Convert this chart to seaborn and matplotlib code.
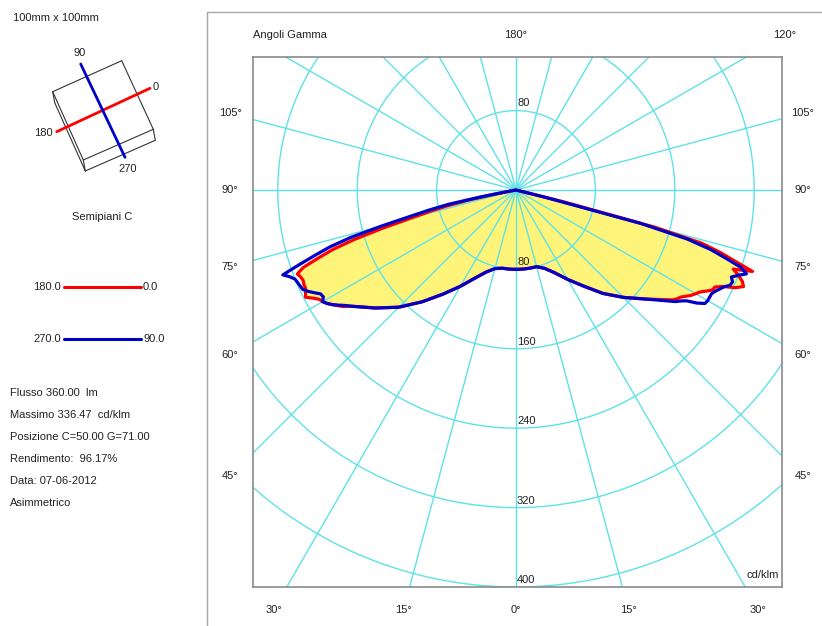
import numpy as np
import pandas as pd
import matplotlib
matplotlib.use('Agg')
import matplotlib.pyplot as plt
import seaborn as sns

# ---------------- data (gamma in degrees, intensity in cd/klm) ----------------
gamma = [0, 5, 10, 15, 20, 25, 30, 35, 40, 45, 50, 55, 56, 57, 58, 59, 60, 61, 62, 63,
         64, 65, 66, 67, 68, 69, 70, 71, 72, 73, 74, 75, 76, 77, 78, 79, 80, 81, 85, 90]

i_c0 = [80, 80, 80, 80, 84, 92, 104, 118, 136, 153, 171, 193, 196, 198, 202, 206, 209, 212, 217, 222,
        223, 230, 242, 249, 246, 240, 233, 252, 232, 215, 195, 145, 50, 0, 0, 0, 0, 0, 0, 0]
i_c180 = [80, 80, 80, 82, 88, 98, 112, 128, 147, 167, 185, 204, 210, 214, 218, 222, 225, 227, 232, 238,
          236, 234, 234, 233, 234, 236, 228, 211, 194, 170, 140, 110, 90, 72, 50, 20, 0, 0, 0, 0]
i_c90 = [80, 80, 80, 80, 84, 92, 104, 118, 136, 153, 171, 196, 200, 205, 215, 222, 223, 223, 223, 225,
         228, 231, 236, 237, 234, 240, 247, 240, 222, 205, 180, 130, 30, 0, 0, 0, 0, 0, 0, 0]
i_c270 = [80, 80, 80, 82, 88, 98, 112, 128, 147, 167, 185, 204, 208, 213, 218, 222, 225, 222, 223, 228,
          233, 237, 238, 239, 240, 244, 250, 231, 213, 196, 173, 140, 110, 90, 70, 35, 5, 0, 0, 0]

radial_ticks = [80, 160, 240, 320, 400]
side_gammas = [105, 90, 75, 60, 45]
bottom_gammas = [-30, -15, 0, 15, 30]

legend_left = ["180.0", "270.0"]
legend_right = ["0.0", "90.0"]
info_lines = ["Flusso 360.00  lm", "Massimo 336.47  cd/klm", "Posizione C=50.00 G=71.00",
              "Rendimento:  96.17%", "Data: 07-06-2012", "Asimmetrico"]

RED = '#ff0000'
BLUE = '#0000c8'
CYAN = '#5ee2e8'
YELLOW = '#fff47a'
TXT = '#222222'
FS = 8

sns.set_theme(style='white')
plt.rcParams['font.family'] = ['Liberation Sans', 'DejaVu Sans']

fig = plt.figure(figsize=(8.22, 6.26), dpi=100)

# ---------------- background / left panel (pixel coordinates) ----------------
bg = fig.add_axes([0, 0, 1, 1])
bg.set_xlim(0, 822)
bg.set_ylim(626, 0)
bg.axis('off')

bg.plot([207, 207], [12, 626], color='#a8a8a8', lw=1)
bg.plot([207, 822], [12, 12], color='#a8a8a8', lw=1)

bg.text(13, 18, "100mm x 100mm", fontsize=FS, color=TXT, ha='left', va='center')

# schematic of the luminaire (slab)
A, B, C, D = (52.7, 91.7), (121.7, 60.7), (153.3, 129.3), (83.3, 160.0)
t = (2.0, 11.0)
A2 = (A[0] + t[0], A[1] + t[1]); C2 = (C[0] + t[0], C[1] + t[1]); D2 = (D[0] + t[0], D[1] + t[1])
for p, q in [(A, B), (B, C), (C, D), (D, A), (A, A2), (A2, D2), (D2, C2), (C, C2), (D, D2)]:
    bg.plot([p[0], q[0]], [p[1], q[1]], color='#333333', lw=0.8)
bg.plot([56.7, 150], [131.7, 88.3], color=RED, lw=2)
bg.plot([80.7, 125], [64, 157.3], color=BLUE, lw=2)
bg.text(80, 53, "90", fontsize=FS, color=TXT, ha='center', va='center')
bg.text(153, 87, "0", fontsize=FS, color=TXT, ha='left', va='center')
bg.text(43, 133, "180", fontsize=FS, color=TXT, ha='center', va='center')
bg.text(128, 169, "270", fontsize=FS, color=TXT, ha='center', va='center')
bg.text(102, 217, "Semipiani C", fontsize=FS, color=TXT, ha='center', va='center')

for k, (lt, rt, col) in enumerate(zip(legend_left, legend_right, [RED, BLUE])):
    yy = 287 + 52 * k
    bg.text(61, yy, lt, fontsize=FS, color=TXT, ha='right', va='center')
    bg.plot([64, 141], [yy, yy], color=col, lw=2.2)
    bg.text(143, yy, rt, fontsize=FS, color=TXT, ha='left', va='center')

for k, line in enumerate(info_lines):
    bg.text(10, 393 + 22 * k, line, fontsize=FS, color=TXT, ha='left', va='center')

# ---------------- main photometric diagram ----------------
ax = fig.add_axes([253 / 822, 1 - 587 / 626, 529 / 822, 530 / 626])
ax.set_facecolor('white')


def plane_df(right, left):
    g = np.radians(gamma)
    r = np.asarray(right, float)
    l = np.asarray(left, float)
    xr, yr = r * np.sin(g), -r * np.cos(g)
    xl, yl = -l * np.sin(g), -l * np.cos(g)
    return pd.DataFrame({'x': np.concatenate([xr, xl[::-1]]),
                         'y': np.concatenate([yr, yl[::-1]])})


df_red = plane_df(i_c0, i_c180)
df_blue = plane_df(i_c90, i_c270)

ax.fill(df_red['x'], df_red['y'], color=YELLOW, lw=0, zorder=1)

tt = np.linspace(0, 2 * np.pi, 721)
for r in radial_ticks:
    ax.plot(r * np.cos(tt), r * np.sin(tt), color=CYAN, lw=1.0, zorder=2)
for a in range(0, 360, 15):
    ar = np.radians(a)
    ax.plot([0, 800 * np.sin(ar)], [0, -800 * np.cos(ar)], color=CYAN, lw=1.0, zorder=2)

sns.lineplot(data=df_red, x='x', y='y', sort=False, estimator=None, color=RED, lw=2.3, ax=ax, zorder=3)
sns.lineplot(data=df_blue, x='x', y='y', sort=False, estimator=None, color=BLUE, lw=2.3, ax=ax, zorder=4)

ax.set_xlim(-265, 268)
ax.set_ylim(-400, 134)
ax.set_xlabel('')
ax.set_ylabel('')
ax.set_xticks([])
ax.set_yticks([])
for s in ax.spines.values():
    s.set_color('#8a8a8a')
    s.set_linewidth(1.2)

# intensity labels
ax.text(1, 83, "80", fontsize=FS, color=TXT, ha='left', va='bottom', zorder=5)
for r in radial_ticks:
    ax.text(1, -r + 2, str(r), fontsize=FS, color=TXT, ha='left', va='bottom', zorder=5)
ax.text(265, -388, "cd/klm", fontsize=FS, color=TXT, ha='right', va='center', zorder=5)

# gamma labels around the frame
for g in side_gammas:
    gr = np.radians(g)
    yy = -288 * np.cos(gr) / np.sin(gr)
    ax.text(-288, yy, f"{g}°", fontsize=FS, color=TXT, ha='center', va='center', clip_on=False)
    ax.text(289, yy, f"{g}°", fontsize=FS, color=TXT, ha='center', va='center', clip_on=False)
for g in bottom_gammas:
    xx = 423 * np.tan(np.radians(g))
    ax.text(xx, -423, f"{abs(g)}°", fontsize=FS, color=TXT, ha='center', va='center', clip_on=False)
ax.text(0, 156, "180°", fontsize=FS, color=TXT, ha='center', va='center', clip_on=False)
ax.text(156 * np.tan(np.radians(60)), 156, "120°", fontsize=FS, color=TXT, ha='center', va='center', clip_on=False)
ax.text(-265, 156, "Angoli Gamma", fontsize=FS, color=TXT, ha='left', va='center', clip_on=False)

fig.savefig('out.png', dpi=100)
